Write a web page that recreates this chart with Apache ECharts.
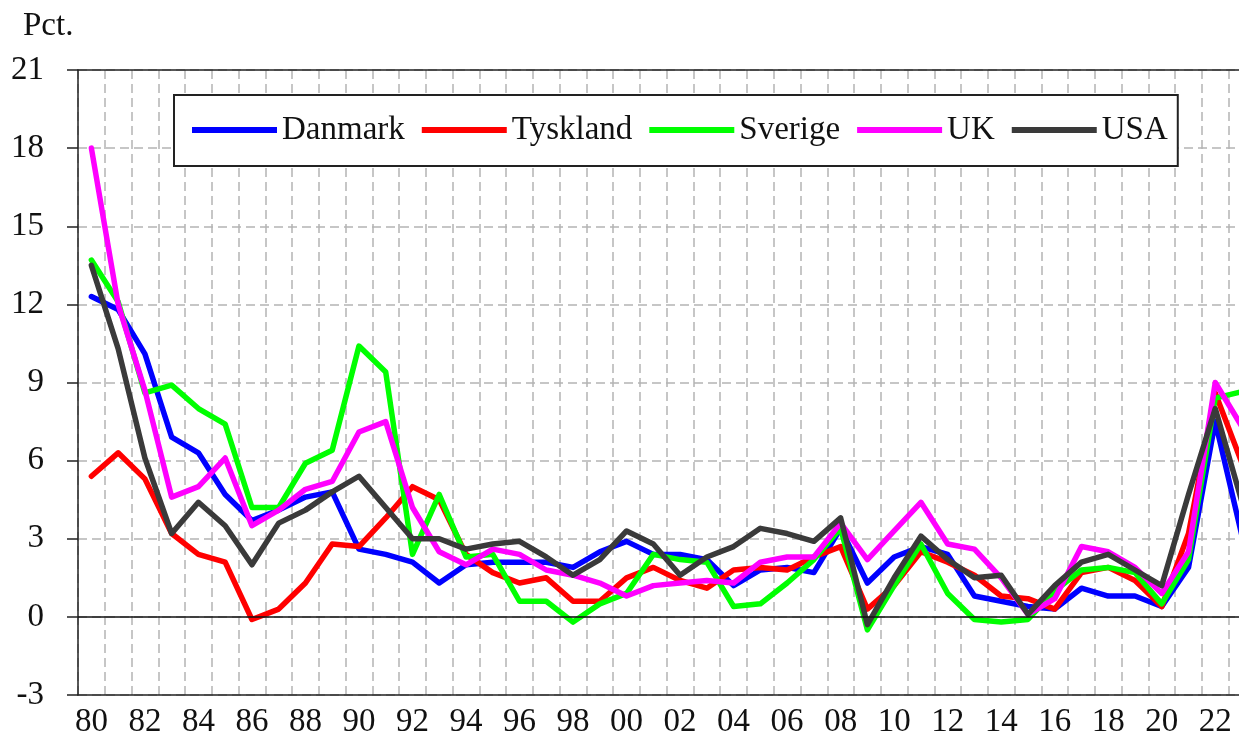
<!DOCTYPE html>
<html>
<head>
<meta charset="utf-8">
<script src="https://cdn.jsdelivr.net/npm/echarts@6/dist/echarts.min.js"></script>
<style>
  html, body { margin: 0; padding: 0; background: #fff; overflow: hidden; }
  #chart { width: 1300px; height: 742px; }
</style>
</head>
<body>
<div id="chart"></div>
<script>
// Årlig inflation 1980-2023, pct.
const years = ['80','81','82','83','84','85','86','87','88','89',
               '90','91','92','93','94','95','96','97','98','99',
               '00','01','02','03','04','05','06','07','08','09',
               '10','11','12','13','14','15','16','17','18','19',
               '20','21','22','23'];

const danmark = [12.3, 11.8, 10.1, 6.9, 6.3, 4.7, 3.7, 4.1, 4.6, 4.8,
                 2.6, 2.4, 2.1, 1.3, 2.0, 2.1, 2.1, 2.1, 1.9, 2.5,
                 2.9, 2.4, 2.4, 2.2, 1.2, 1.8, 1.9, 1.7, 3.4, 1.3,
                 2.3, 2.7, 2.4, 0.8, 0.6, 0.4, 0.3, 1.1, 0.8, 0.8,
                 0.4, 1.9, 7.5, 3.1];

const tyskland = [5.4, 6.3, 5.3, 3.2, 2.4, 2.1, -0.1, 0.3, 1.3, 2.8,
                  2.7, 3.8, 5.0, 4.5, 2.4, 1.7, 1.3, 1.5, 0.6, 0.6,
                  1.5, 1.9, 1.4, 1.1, 1.8, 1.9, 1.8, 2.3, 2.7, 0.3,
                  1.2, 2.5, 2.1, 1.6, 0.8, 0.7, 0.3, 1.7, 1.9, 1.4,
                  0.4, 3.2, 8.6, 5.9];

const sverige = [13.7, 12.1, 8.6, 8.9, 8.0, 7.4, 4.2, 4.2, 5.9, 6.4,
                 10.4, 9.4, 2.4, 4.7, 2.3, 2.4, 0.6, 0.6, -0.2, 0.5,
                 0.9, 2.4, 2.2, 2.1, 0.4, 0.5, 1.3, 2.2, 3.4, -0.5,
                 1.2, 2.8, 0.9, -0.1, -0.2, -0.1, 1.0, 1.8, 1.9, 1.7,
                 0.5, 2.2, 8.4, 8.65];

const uk = [18.0, 12.0, 8.7, 4.6, 5.0, 6.1, 3.5, 4.1, 4.9, 5.2,
            7.1, 7.5, 4.2, 2.5, 2.0, 2.6, 2.4, 1.8, 1.6, 1.3,
            0.8, 1.2, 1.3, 1.4, 1.3, 2.1, 2.3, 2.3, 3.6, 2.2,
            3.3, 4.4, 2.8, 2.6, 1.5, 0.1, 0.7, 2.7, 2.5, 1.9,
            0.9, 2.5, 9.0, 7.3];

const usa = [13.5, 10.3, 6.1, 3.2, 4.4, 3.5, 2.0, 3.6, 4.1, 4.8,
             5.4, 4.2, 3.0, 3.0, 2.6, 2.8, 2.9, 2.3, 1.6, 2.2,
             3.3, 2.8, 1.6, 2.3, 2.7, 3.4, 3.2, 2.9, 3.8, -0.3,
             1.5, 3.1, 2.2, 1.5, 1.6, 0.1, 1.2, 2.1, 2.4, 1.8,
             1.2, 4.7, 8.0, 4.4];

const FONT = 'Liberation Serif';
const TEXT = '#111';
const AXIS = { color: '#222', width: 1.5 };
const DASH = { color: '#b4b4b4', width: 1.5, type: [9, 5] };

function line(name, data, color, extra) {
  return Object.assign({
    name: name,
    type: 'line',
    data: data,
    showSymbol: false,
    symbol: 'none',
    color: color,
    lineStyle: { width: 5.5, color: color, join: 'round', cap: 'round' },
    emphasis: { disabled: true }
  }, extra || {});
}

const chart = echarts.init(document.getElementById('chart'));
chart.setOption({
  animation: false,
  backgroundColor: '#fff',
  title: {
    text: 'Pct.',
    left: 18,
    top: 5,
    textStyle: { fontFamily: FONT, fontSize: 33, fontWeight: 'normal', color: TEXT }
  },
  legend: {
    left: 174,
    top: 95,
    icon: 'rect',
    itemWidth: 85,
    itemHeight: 6,
    itemGap: 17,
    padding: [17, 10, 18, 18],
    backgroundColor: '#fff',
    borderColor: '#222',
    borderWidth: 2,
    textStyle: { fontFamily: FONT, fontSize: 33, color: TEXT, lineHeight: 36 },
    data: ['Danmark', 'Tyskland', 'Sverige', 'UK', 'USA']
  },
  grid: { left: 78, top: 70, width: 1177.4, height: 625 },
  xAxis: [
    {
      type: 'category',
      data: years,
      position: 'bottom',
      boundaryGap: true,
      axisLine: { onZero: false, lineStyle: AXIS },
      axisTick: { show: false },
      axisLabel: { interval: 1, fontFamily: FONT, fontSize: 33, color: TEXT, margin: 11 },
      splitLine: { show: true, interval: 0, lineStyle: DASH }
    },
    {
      type: 'category',
      data: years,
      position: 'top',
      boundaryGap: true,
      axisLine: { onZero: false, lineStyle: AXIS },
      axisTick: { show: false },
      axisLabel: { show: false },
      splitLine: { show: false }
    }
  ],
  yAxis: {
    type: 'value',
    min: -3,
    max: 21,
    interval: 3,
    axisLine: { show: true, lineStyle: AXIS },
    axisTick: { show: true, length: 11, lineStyle: AXIS },
    axisLabel: { fontFamily: FONT, fontSize: 33, color: TEXT, margin: 34 },
    splitLine: { show: true, lineStyle: DASH }
  },
  series: [
    line('Danmark', danmark, '#0000ff', {
      markLine: {
        silent: true,
        symbol: ['none', 'none'],
        label: { show: false },
        lineStyle: { color: '#111', width: 1.5, type: 'solid' },
        data: [{ yAxis: 0 }]
      }
    }),
    line('Tyskland', tyskland, '#ff0000'),
    line('Sverige', sverige, '#00ff00'),
    line('UK', uk, '#ff00ff'),
    line('USA', usa, '#3a3a3a')
  ]
});
</script>
</body>
</html>
